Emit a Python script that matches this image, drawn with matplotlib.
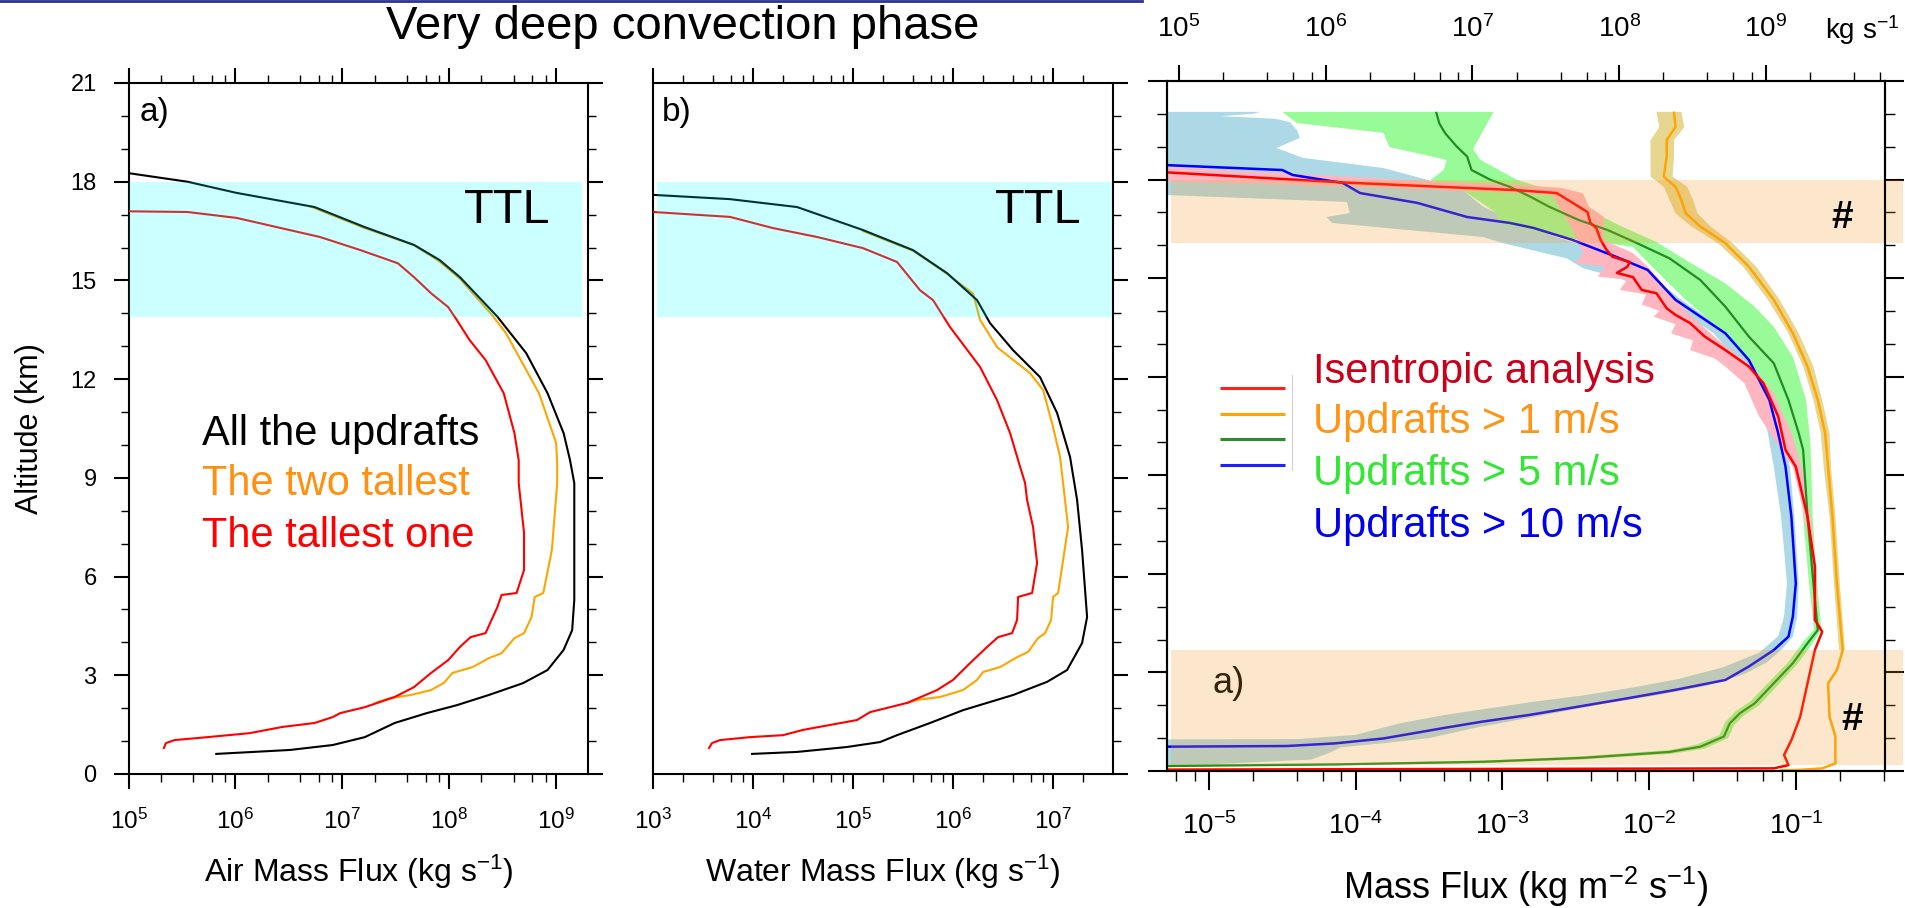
#!/usr/bin/env python3
import numpy as np
import matplotlib
matplotlib.use("Agg")
import matplotlib.pyplot as plt
import matplotlib.transforms as mtransforms
from matplotlib.lines import Line2D
from matplotlib.patches import Rectangle
from matplotlib.ticker import LogLocator, NullFormatter, MultipleLocator

plt.rcParams['font.family'] = ['Liberation Sans', 'DejaVu Sans']
plt.rcParams['mathtext.fontset'] = 'custom'
plt.rcParams['mathtext.rm'] = 'Liberation Sans'
plt.rcParams['mathtext.it'] = 'Liberation Sans:italic'
plt.rcParams['mathtext.bf'] = 'Liberation Sans:bold'

# ---------------- data (log10 of flux, altitude km) ----------------
# panel a: air mass flux (kg s-1)
A_ALL_LOG = [5.0, 5.55, 6.01, 6.74, 7.21, 7.67, 7.91, 8.10, 8.45, 8.72, 8.92, 9.07, 9.13, 9.17,
             9.17, 9.17, 9.15, 9.07, 8.92, 8.69, 8.37, 8.07, 7.79, 7.49, 7.21, 6.91, 6.51, 5.82]
A_ALL_KM = [18.26, 18.0, 17.66, 17.23, 16.62, 16.08, 15.62, 15.1, 13.9, 12.79, 11.57, 10.36, 9.54, 8.84,
            6.0, 5.29, 4.37, 3.77, 3.16, 2.76, 2.4, 2.09, 1.85, 1.55, 1.12, 0.88, 0.73, 0.61]
A_TWO_LOG = [6.7, 7.2, 7.67, 7.9, 8.1, 8.40, 8.53, 8.84, 9.0, 9.01, 9.01, 8.96, 8.88, 8.80, 8.77,
             8.70, 8.61, 8.49, 8.37, 8.22, 8.03, 7.95, 7.83, 7.64, 7.44, 7.31]
A_TWO_KM = [17.25, 16.6, 16.07, 15.6, 15.05, 13.95, 13.4, 11.57, 10.06, 9.45, 8.84, 6.8, 5.5, 5.38, 4.77,
            4.28, 4.13, 3.67, 3.52, 3.25, 3.07, 2.77, 2.55, 2.4, 2.3, 2.16]
A_ONE_LOG = [5.0, 5.55, 6.01, 6.79, 7.17, 7.52, 7.67, 7.83, 7.99, 8.07, 8.19, 8.34, 8.51, 8.61, 8.65,
             8.65, 8.70, 8.70, 8.63, 8.49, 8.45, 8.34, 8.2, 8.10, 7.99, 7.83, 7.67, 7.49, 7.21, 6.98,
             6.91, 6.74, 6.44, 6.13, 5.74, 5.43, 5.35, 5.33]
A_ONE_KM = [17.1, 17.08, 16.9, 16.32, 15.92, 15.52, 15.1, 14.61, 14.19, 13.8, 13.19, 12.58, 11.57, 10.36, 9.54,
            8.84, 7.32, 6.2, 5.5, 5.44, 5.07, 4.28, 4.16, 3.86, 3.46, 3.07, 2.64, 2.34, 2.03, 1.85,
            1.73, 1.55, 1.43, 1.24, 1.12, 1.03, 0.94, 0.79]

# panel b: water mass flux (kg s-1)
B_ALL_LOG = [3.0, 3.77, 4.44, 5.1, 5.6, 5.94, 6.24, 6.37, 6.6, 6.87, 7.04, 7.17, 7.24, 7.29, 7.34,
             7.29, 7.14, 6.94, 6.6, 6.1, 5.77, 5.44, 5.27, 4.94, 4.44, 3.99]
B_ALL_KM = [17.6, 17.47, 17.23, 16.53, 15.92, 15.22, 14.4, 13.7, 12.88, 12.06, 10.97, 9.63, 8.33, 6.8, 4.77,
            3.98, 3.16, 2.8, 2.4, 1.94, 1.55, 1.18, 0.97, 0.82, 0.67, 0.61]
B_TWO_LOG = [5.1, 5.6, 5.94, 6.2, 6.27, 6.44, 6.77, 6.9, 7.0, 7.07, 7.1, 7.15, 7.1, 7.05, 7.0, 6.98,
             6.92, 6.85, 6.75, 6.64, 6.47, 6.3, 6.24, 6.1, 5.87, 5.64, 5.55]
B_TWO_KM = [16.5, 15.9, 15.2, 14.6, 13.8, 12.97, 12.18, 11.67, 10.54, 9.63, 8.84, 7.5, 6.5, 5.5, 5.38, 4.68,
            4.28, 4.13, 3.71, 3.55, 3.25, 3.1, 2.86, 2.55, 2.34, 2.25, 2.16]
B_ONE_LOG = [3.0, 3.77, 4.2, 4.64, 5.1, 5.44, 5.67, 5.8, 5.97, 6.27, 6.44, 6.57, 6.65, 6.72, 6.74, 6.8,
             6.84, 6.79, 6.65, 6.64, 6.59, 6.45, 6.34, 6.17, 6.0, 5.84, 5.54, 5.37, 5.17, 5.04, 4.77,
             4.5, 4.3, 3.97, 3.67, 3.59, 3.56]
B_ONE_KM = [17.08, 16.93, 16.59, 16.32, 15.98, 15.56, 14.7, 14.4, 13.58, 12.37, 11.36, 10.36, 9.54, 8.84, 8.33, 7.5,
            6.41, 5.5, 5.38, 4.68, 4.28, 4.16, 3.86, 3.37, 2.86, 2.55, 2.16, 2.03, 1.88, 1.64, 1.49,
            1.34, 1.18, 1.12, 1.03, 0.94, 0.79]

# panel c: mass flux (kg m-2 s-1)
C_RED_LOG = [-5.5, -5.29, -4.08, -2.91, -2.63, -2.52, -2.42, -2.40, -2.36, -2.33, -2.29, -2.25, -2.13,
             -2.15, -2.22, -2.11, -2.05, -1.95, -1.88, -1.82, -1.72, -1.62, -1.48, -1.32, -1.22, -1.12,
             -1.07, -1.0, -0.92, -0.87, -0.87, -0.82, -0.87, -0.92, -0.97, -1.03, -1.08, -1.05, -1.15, -5.5]
C_RED_KM = [18.26, 18.22, 17.91, 17.68, 17.59, 17.29, 17.01, 16.68, 16.53, 16.16, 15.86, 15.65, 15.49,
            15.34, 15.16, 15.03, 14.64, 14.54, 14.08, 13.88, 13.63, 13.22, 12.81, 12.31, 11.80, 10.79,
            9.77, 9.26, 7.74, 6.22, 4.6, 4.24, 3.68, 2.67, 1.65, 0.94, 0.49, 0.18, 0.08, 0.04]
C_ORANGE_LOG = [-1.83, -1.82, -1.88, -1.88, -1.90, -1.82, -1.78, -1.75, -1.65, -1.48, -1.32, -1.15, -1.02,
                -0.92, -0.85, -0.80, -0.78, -0.75, -0.72, -0.68, -0.72, -0.78, -0.77, -0.73, -0.73, -0.82,
                -0.98, -1.1]
C_ORANGE_KM = [20.03, 19.6, 19.2, 18.7, 18.09, 17.78, 17.38, 16.97, 16.57, 16.06, 15.35, 14.34, 13.32,
               12.31, 11.29, 10.28, 9.26, 7.74, 5.71, 3.68, 3.07, 2.67, 1.65, 1.05, 0.23, 0.08, 0.03, 0.02]
C_GREEN_LOG = [-3.45, -3.43, -3.39, -3.31, -3.24, -3.21, -3.08, -2.95, -2.81, -2.68, -2.48, -2.28, -2.08,
               -1.86, -1.65, -1.48, -1.32, -1.15, -1.05, -0.98, -0.95, -0.92, -0.88, -0.85, -0.92, -1.02,
               -1.15, -1.28, -1.38, -1.45, -1.49, -1.65, -1.86, -2.45, -3.13, -4.14, -5.29, -5.5]
C_GREEN_KM = [20.03, 19.71, 19.41, 19.0, 18.7, 18.29, 17.99, 17.78, 17.48, 17.17, 16.77, 16.46, 16.06,
              15.6, 14.94, 14.13, 13.22, 12.41, 11.29, 10.28, 9.77, 7.74, 5.71, 4.29, 3.89, 3.28,
              2.67, 2.06, 1.76, 1.45, 1.05, 0.74, 0.58, 0.4, 0.28, 0.2, 0.15, 0.15]
C_BLUE_LOG = [-5.5, -5.29, -4.50, -4.43, -4.22, -4.09, -3.97, -3.58, -3.24, -2.95, -2.79, -2.52, -2.22,
              -2.01, -1.82, -1.48, -1.32, -1.18, -1.12, -1.07, -1.03, -1.0, -1.02, -1.05, -1.15, -1.32,
              -1.48, -1.82, -2.15, -2.48, -2.81, -3.14, -3.41, -3.81, -4.14, -4.47, -5.29, -5.5]
C_BLUE_KM = [18.46, 18.44, 18.29, 18.14, 17.99, 17.9, 17.59, 17.29, 16.86, 16.68, 16.53, 16.16, 15.64,
             15.25, 14.34, 13.32, 12.51, 11.29, 10.28, 9.26, 7.74, 5.71, 4.7, 4.09, 3.68, 3.18,
             2.77, 2.47, 2.21, 1.96, 1.71, 1.5, 1.3, 0.99, 0.84, 0.76, 0.74, 0.74]

# spread envelopes in panel c (outline of each shaded area)
BAND_BLUE_LOG = [-6.5, -4.65, -4.70, -4.92, -4.55, -4.45, -4.40, -4.38, -4.54, -4.36, -3.81, -3.51, -3.27,
                 -3.13, -2.9, -2.6, -2.3, -2.05, -1.78, -1.45, -1.28, -1.15, -1.09, -1.04, -1.01, -0.98,
                 -0.99, -1.02, -1.1, -1.2, -1.35, -1.6, -1.95, -2.3, -2.6, -2.9, -3.2, -3.5, -3.8, -4.1,
                 -4.18, -4.3, -4.9, -5.3, -6.5,
                 -6.5, -4.4, -4.0, -3.7, -3.4, -3.1, -2.8, -2.45, -2.1, -1.8, -1.5, -1.25, -1.12, -1.08,
                 -1.06, -1.1, -1.15, -1.19, -1.25, -1.4, -1.56, -1.9, -2.2, -2.45, -2.56, -3.0, -3.13,
                 -4.16, -4.20, -4.04, -4.06, -5.3, -6.5]
BAND_BLUE_KM = [20.06, 20.06, 20.0, 19.93, 19.85, 19.75, 19.51, 19.27, 18.96, 18.66, 18.35, 17.99, 17.68,
                17.17, 16.7, 16.2, 15.8, 15.3, 14.34, 13.32, 12.51, 11.29, 10.28, 9.26, 7.74, 5.71,
                4.7, 4.09, 3.68, 3.3, 2.95, 2.6, 2.3, 2.05, 1.8, 1.55, 1.3, 1.0, 0.85, 0.72,
                0.55, 0.35, 0.22, 0.15, 0.15,
                0.95, 0.97, 1.1, 1.45, 1.7, 1.9, 2.1, 2.3, 2.55, 2.8, 3.15, 3.6, 4.1, 4.7,
                5.71, 7.74, 9.26, 10.28, 11.29, 12.51, 13.32, 14.34, 15.0, 15.3, 15.6, 16.07, 16.25,
                16.68, 16.86, 16.98, 17.32, 17.53, 17.55]
BAND_GREEN_LOG = [-4.50, -3.06, -3.20, -3.15, -2.90, -2.68, -2.45, -2.2, -1.95, -1.75, -1.48, -1.28, -1.15,
                  -1.02, -0.93, -0.90, -0.895, -0.885, -0.855, -0.825, -0.89, -0.99, -1.12, -1.25, -1.35,
                  -1.42, -1.46, -1.62, -1.85, -2.45, -3.13, -4.14, -6.5,
                  -6.5, -4.14, -3.13, -2.45, -1.86, -1.68, -1.52, -1.48, -1.41, -1.31, -1.18, -1.05, -0.95,
                  -0.875, -0.91, -0.95, -0.99, -1.05, -1.15, -1.28, -1.48, -1.75, -1.98, -2.11, -2.45,
                  -2.61, -3.02, -3.04, -3.24, -3.49, -3.40, -3.38, -3.77, -3.81, -4.40]
BAND_GREEN_KM = [20.06, 20.06, 18.93, 18.6, 17.99, 17.68, 17.17, 16.6, 16.1, 15.55, 14.84, 14.13, 13.52,
                 12.6, 11.29, 9.97, 9.26, 7.74, 5.71, 4.3, 3.85, 3.25, 2.62, 2.0, 1.7,
                 1.4, 1.0, 0.68, 0.52, 0.35, 0.24, 0.17, 0.12,
                 0.19, 0.23, 0.32, 0.45, 0.64, 0.8, 1.1, 1.5, 1.82, 2.12, 2.72, 3.32, 3.93,
                 4.3, 5.71, 7.74, 9.26, 10.28, 11.29, 12.31, 13.32, 14.34, 15.35, 15.95, 16.16,
                 16.25, 16.68, 16.98, 17.59, 17.99, 18.29, 18.6, 18.99, 19.42, 19.72]
BAND_PINK_LOG = [-6.5, -5.3, -4.5, -3.5, -2.95, -2.6, -2.45, -2.41, -2.31, -2.31, -2.11, -2.01, -1.9, -1.75,
                 -1.55, -1.3, -1.15, -1.03, -0.96, -0.9, -0.86, -0.855,
                 -0.88, -0.885, -0.94, -1.02, -1.1, -1.25, -1.35, -1.48, -1.55, -1.72, -1.70, -1.85,
                 -1.82, -1.97, -1.93, -2.05, -2.02, -2.2, -2.15, -2.35, -2.3, -2.5, -2.45, -2.52, -2.66,
                 -2.95, -3.5, -4.5, -5.3, -6.5]
BAND_PINK_KM = [18.4, 18.38, 18.2, 17.95, 17.85, 17.75, 17.58, 17.17, 16.87, 16.16, 15.76, 15.35, 14.8, 14.0,
                13.2, 12.3, 11.5, 10.3, 9.26, 7.74, 6.2, 4.6,
                4.6, 6.2, 7.74, 9.26, 9.77, 10.79, 11.80, 12.31, 12.55, 12.81, 13.1, 13.32,
                13.6, 13.83, 14.0, 14.2, 14.5, 14.64, 14.95, 15.05, 15.35, 15.45, 15.75, 16.47, 17.53,
                17.6, 17.7, 17.85, 17.95, 17.97]
BAND_KHAKI_LOG = [-1.95, -1.93, -1.99, -1.99, -1.99, -1.90, -1.86, -1.82, -1.71, -1.53, -1.36, -1.19, -1.05,
                  -0.95, -0.88, -0.83, -0.81, -0.77, -0.74, -0.705,
                  -0.665, -0.70, -0.73, -0.76, -0.77, -0.82, -0.88, -0.98, -1.11, -1.27, -1.43, -1.58,
                  -1.67, -1.70, -1.74, -1.84, -1.83, -1.83, -1.76, -1.78]
BAND_KHAKI_KM = [20.06, 19.6, 19.2, 18.7, 18.09, 17.78, 17.38, 16.97, 16.57, 16.06, 15.35, 14.34, 13.32,
                 12.31, 11.29, 10.28, 9.26, 7.74, 5.71, 3.68,
                 3.68, 5.71, 7.74, 9.26, 10.28, 11.29, 12.31, 13.32, 14.34, 15.35, 16.06, 16.57,
                 16.97, 17.38, 17.78, 18.09, 18.7, 19.2, 19.6, 20.06]

TTL_KM = (13.88, 18.0)
PEACH_UPPER_KM = (16.07, 18.0)
PEACH_LOWER_KM = (0.18, 3.68)

LEGEND_LABELS = ["Isentropic analysis", "Updrafts > 1 m/s", "Updrafts > 5 m/s", "Updrafts > 10 m/s"]
PROFILE_LABELS = ["All the updrafts", "The two tallest", "The tallest one"]

# log10 of (kg s-1) / (kg m-2 s-1), top axis of panel c
AREA_LOG = 10.204
# ------------------------------------------------------------------


def to_flux(vals):
    return 10.0 ** np.asarray(vals)


def style_axis(ax, xlim, major_len, minor_len, labelsize, xpad):
    ax.set_xscale('log')
    ax.set_xlim(*xlim)
    ax.set_ylim(0, 21)
    ax.xaxis.set_major_locator(LogLocator(base=10, numticks=50))
    ax.xaxis.set_minor_locator(LogLocator(base=10, subs=(2, 4, 6, 8), numticks=50))
    ax.xaxis.set_minor_formatter(NullFormatter())
    ax.yaxis.set_major_locator(MultipleLocator(3))
    ax.yaxis.set_minor_locator(MultipleLocator(1))
    for s in ax.spines.values():
        s.set_linewidth(1.5)
    ax.tick_params(which='both', direction='out', top=True, right=True)
    ax.tick_params(which='major', length=major_len, width=1.5, labelsize=labelsize)
    ax.tick_params(which='minor', length=minor_len, width=1.0)
    ax.tick_params(axis='x', pad=xpad)
    ax.tick_params(axis='y', pad=12, labelsize=17)


def add_ttl(ax, x0, x1):
    tr = mtransforms.blended_transform_factory(ax.transAxes, ax.transData)
    ax.add_patch(Rectangle((x0, TTL_KM[0]), x1 - x0, TTL_KM[1] - TTL_KM[0], transform=tr,
                           facecolor='#00FFFF', alpha=0.2, lw=0, zorder=5))


def profile_panel(ax, all_v, two_v, one_v):
    ax.plot(to_flux(two_v[0]), two_v[1], color='#FFA500', lw=1.5, zorder=2)
    ax.plot(to_flux(all_v[0]), all_v[1], color='black', lw=1.5, zorder=3)
    ax.plot(to_flux(one_v[0]), one_v[1], color='#FF0000', lw=1.5, zorder=4)


def main():
    fig = plt.figure(figsize=(19.05, 9.08), dpi=100)

    # ---------- panel a ----------
    ax_a = fig.add_axes([0.0675, 0.1476, 0.2412, 0.7610])
    style_axis(ax_a, (1e5, 10 ** 9.299), 11, 5.5, 17.5, 14)
    profile_panel(ax_a, (A_ALL_LOG, A_ALL_KM), (A_TWO_LOG, A_TWO_KM), (A_ONE_LOG, A_ONE_KM))
    add_ttl(ax_a, 0.0, 0.987)
    ax_a.text(0.023, 0.9566, "a)", transform=ax_a.transAxes, fontsize=24, va='center', ha='left')
    ax_a.text(0.730, 0.7974, "TTL", transform=ax_a.transAxes, fontsize=35, va='baseline', zorder=6)
    for lab, col, yb in zip(PROFILE_LABELS, ['black', '#FF9010', '#FF0000'], [0.4761, 0.4038, 0.3285]):
        ax_a.text(0.160, yb, lab, transform=ax_a.transAxes, fontsize=30, color=col, va='baseline')
    ax_a.set_xlabel("Air Mass Flux (kg s$^{-1}$)", fontsize=23)
    ax_a.xaxis.set_label_coords(0.5, -0.1418)
    ax_a.xaxis.label.set_va('center')
    ax_a.set_ylabel("Altitude (km)", fontsize=22)
    ax_a.yaxis.set_label_coords(-0.2144, 0.5)
    ax_a.yaxis.label.set_va('center')

    # ---------- panel b ----------
    ax_b = fig.add_axes([0.3428, 0.1476, 0.2415, 0.7610])
    style_axis(ax_b, (1e3, 10 ** 7.6), 11, 5.5, 17.5, 14)
    ax_b.tick_params(axis='y', which='both', left=False, labelleft=False)
    profile_panel(ax_b, (B_ALL_LOG, B_ALL_KM), (B_TWO_LOG, B_TWO_KM), (B_ONE_LOG, B_ONE_KM))
    add_ttl(ax_b, 0.009, 0.998)
    ax_b.text(0.0196, 0.9566, "b)", transform=ax_b.transAxes, fontsize=24, va='center', ha='left')
    ax_b.text(0.7435, 0.7974, "TTL", transform=ax_b.transAxes, fontsize=35, va='baseline', zorder=6)
    ax_b.set_xlabel("Water Mass Flux (kg s$^{-1}$)", fontsize=23)
    ax_b.xaxis.set_label_coords(0.5, -0.1418)
    ax_b.xaxis.label.set_va('center')

    # ---------- panel c ----------
    ax_c = fig.add_axes([0.6126, 0.1509, 0.3769, 0.7599])
    xlim_c = (10 ** -5.286, 10 ** -0.392)
    style_axis(ax_c, xlim_c, 14, 7, 20, 16)
    ax_c.tick_params(axis='x', which='both', top=False)
    ax_c.tick_params(axis='y', which='both', labelleft=False)

    ax_c.fill(to_flux(BAND_BLUE_LOG), BAND_BLUE_KM, color='#ADD8E6', lw=0, zorder=1.0)
    ax_c.fill(to_flux(BAND_GREEN_LOG), BAND_GREEN_KM, color='#98FB98', lw=0, zorder=1.1)
    ax_c.fill(to_flux(BAND_PINK_LOG), BAND_PINK_KM, color='#FFB6C1', lw=0, zorder=1.2)
    ax_c.fill(to_flux(BAND_KHAKI_LOG), BAND_KHAKI_KM, color='#E6D690', lw=0, zorder=1.3)

    ax_c.plot(to_flux(C_ORANGE_LOG), C_ORANGE_KM, color='#FFA500', lw=1.8, zorder=3)
    ax_c.plot(to_flux(C_GREEN_LOG), C_GREEN_KM, color='#228B22', lw=1.6, zorder=3.1)
    ax_c.plot(to_flux(C_BLUE_LOG), C_BLUE_KM, color='#0000FF', lw=1.8, zorder=3.2)
    ax_c.plot(to_flux(C_RED_LOG), C_RED_KM, color='#FF0000', lw=1.8, zorder=3.3)

    ax_c.text(0.0627, 0.1275, "a)", transform=ax_c.transAxes, fontsize=26, va='center', ha='left',
              color='black', zorder=4)

    tr = mtransforms.blended_transform_factory(ax_c.transAxes, ax_c.transData)
    for lo, hi in (PEACH_UPPER_KM, PEACH_LOWER_KM):
        ax_c.add_patch(Rectangle((0.006, lo), 1.019, hi - lo, transform=tr, facecolor='#F89B23',
                                 alpha=0.23, lw=0, zorder=5, clip_on=False))

    ax_c.text(0.940, 0.8014, "#", transform=ax_c.transAxes, fontsize=28, fontweight='bold',
              ha='center', va='center', zorder=6)
    ax_c.text(0.954, 0.0739, "#", transform=ax_c.transAxes, fontsize=28, fontweight='bold',
              ha='center', va='center', zorder=6)

    # legend drawn by hand, as in the slide
    line_cols = ['#FF2020', '#FFA500', '#2E8B2E', '#2020FF']
    line_y = [0.5551, 0.5174, 0.4812, 0.4435]
    text_cols = ['#C8001A', '#FF9515', '#33E633', '#0000EE']
    text_y = [0.5623, 0.4899, 0.4145, 0.3391]
    for col, y in zip(line_cols, line_y):
        ax_c.plot([0.0738, 0.1643], [y, y], transform=ax_c.transAxes, color=col, lw=2.2,
                  solid_capstyle='butt', zorder=6)
    ax_c.plot([0.174, 0.174], [0.436, 0.574], transform=ax_c.transAxes, color='#d0d0d0', lw=0.8, zorder=6)
    for lab, col, y in zip(LEGEND_LABELS, text_cols, text_y):
        ax_c.text(0.2033, y, lab, transform=ax_c.transAxes, fontsize=30, color=col, va='baseline', zorder=6)

    ax_c.set_xlabel("Mass Flux (kg m$^{-2}$ s$^{-1}$)", fontsize=26)
    ax_c.xaxis.set_label_coords(0.5, -0.168)
    ax_c.xaxis.label.set_va('center')

    top = ax_c.twiny()
    top.set_xscale('log')
    top.set_xlim(xlim_c[0] * 10 ** AREA_LOG, xlim_c[1] * 10 ** AREA_LOG)
    top.xaxis.set_major_locator(LogLocator(base=10, numticks=50))
    top.xaxis.set_minor_locator(LogLocator(base=10, subs=(2, 4, 6, 8), numticks=50))
    top.xaxis.set_minor_formatter(NullFormatter())
    for s in top.spines.values():
        s.set_linewidth(1.5)
    top.tick_params(which='both', direction='out')
    top.tick_params(which='major', length=11.5, width=1.5, labelsize=20, pad=16)
    top.tick_params(which='minor', length=6.5, width=1.0)

    fig.text(1862 / 1905, 1 - 30 / 908, "kg s$^{-1}$", fontsize=20, ha='center', va='center')

    # ---------- slide title ----------
    fig.text(683 / 1905, 1 - 27 / 908, "Very deep convection phase", fontsize=34, ha='center', va='center')
    fig.add_artist(Line2D([0, 1142 / 1905], [1 - 1 / 908, 1 - 1 / 908], color='#2E3192', lw=2))

    fig.savefig("out.png", dpi=100)
    plt.close(fig)


if __name__ == "__main__":
    main()
